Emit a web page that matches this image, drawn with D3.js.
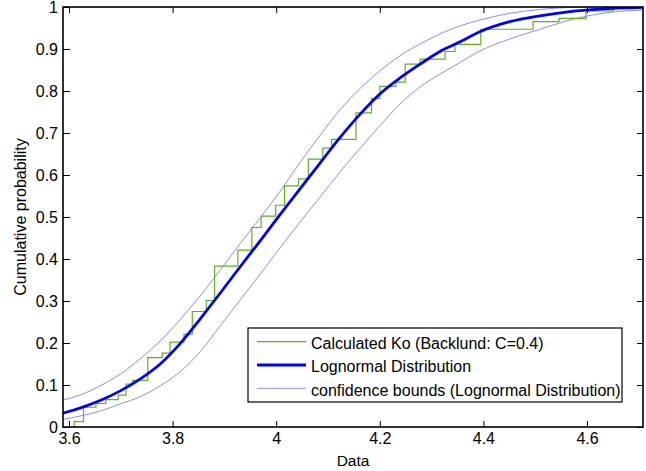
<!DOCTYPE html>
<html>
<head>
<meta charset="utf-8">
<script src="https://cdn.jsdelivr.net/npm/d3@7"></script>
<style>
  body { margin: 0; background: #fff; }
  svg { display: block; font-family: "Liberation Sans", Arial, sans-serif; }
</style>
</head>
<body>
<svg></svg>
<script>
// Empirical CDF (stairs) vs fitted lognormal CDF with confidence bounds

// empirical steps: x where the step happens, y = cumulative probability after the step
const ecdfX = [3.610, 3.628, 3.652, 3.671, 3.695, 3.710, 3.723, 3.752, 3.780, 3.795,
  3.822, 3.838, 3.865, 3.881, 3.926, 3.953, 3.971, 3.999, 4.016, 4.043,
  4.062, 4.090, 4.107, 4.154, 4.184, 4.200, 4.231, 4.249, 4.278, 4.326,
  4.345, 4.395, 4.496, 4.546, 4.598, 4.651];
const ecdfY = [0.013, 0.047, 0.056, 0.065, 0.076, 0.102, 0.111, 0.165, 0.176, 0.202,
  0.221, 0.275, 0.301, 0.383, 0.421, 0.475, 0.502, 0.528, 0.574, 0.591,
  0.638, 0.664, 0.685, 0.748, 0.782, 0.811, 0.821, 0.864, 0.876, 0.894,
  0.911, 0.947, 0.965, 0.973, 0.991, 1.0];

// fitted curve and bounds
const fitX = [3.588, 3.621, 3.660, 3.699, 3.737, 3.776, 3.814, 3.853, 3.892, 3.930,
  3.969, 4.007, 4.046, 4.085, 4.123, 4.162, 4.200, 4.239, 4.278, 4.316,
  4.355, 4.393, 4.451, 4.509, 4.567, 4.625, 4.708];
const fitY = [0.033, 0.045, 0.063, 0.086, 0.114, 0.150, 0.198, 0.257, 0.319, 0.381,
  0.443, 0.505, 0.567, 0.629, 0.689, 0.745, 0.793, 0.831, 0.864, 0.894,
  0.917, 0.941, 0.965, 0.979, 0.989, 0.995, 0.999];
const upperY = [0.064, 0.076, 0.098, 0.126, 0.162, 0.205, 0.255, 0.312, 0.374, 0.436,
  0.498, 0.560, 0.630, 0.695, 0.755, 0.806, 0.848, 0.884, 0.912, 0.936,
  0.955, 0.969, 0.985, 0.994, 0.999, 1.0, 1.0];
const lowerY = [0.018, 0.026, 0.038, 0.055, 0.072, 0.098, 0.131, 0.179, 0.241, 0.302,
  0.364, 0.426, 0.488, 0.548, 0.607, 0.664, 0.717, 0.769, 0.810, 0.840,
  0.868, 0.895, 0.924, 0.947, 0.969, 0.984, 0.993];

const xTicks = [3.6, 3.8, 4.0, 4.2, 4.4, 4.6];
const yTicks = [0, 0.1, 0.2, 0.3, 0.4, 0.5, 0.6, 0.7, 0.8, 0.9, 1];

const legendLabels = [
  "Calculated Ko (Backlund: C=0.4)",
  "Lognormal Distribution",
  "confidence bounds (Lognormal Distribution)"
];

const width = 646;
const height = 471;
const plotLeft = 63, plotRight = 643, plotTop = 7, plotBottom = 427;

const green = "#62b022";
const blue = "#0000ff";
const lightBlue = "#8c8cff";

const svg = d3.select("svg").attr("width", width).attr("height", height);

svg.append("rect").attr("width", width).attr("height", height).attr("fill", "#fff");

const x = d3.scaleLinear().domain([3.5884, 4.7081]).range([plotLeft, plotRight]);
const y = d3.scaleLinear().domain([0, 1]).range([plotBottom, plotTop]);

svg.append("clipPath").attr("id", "plot")
  .append("rect")
  .attr("x", plotLeft).attr("y", plotTop)
  .attr("width", plotRight - plotLeft).attr("height", plotBottom - plotTop);

const plot = svg.append("g").attr("clip-path", "url(#plot)");

const smooth = d3.line()
  .x((d) => x(d[0]))
  .y((d) => y(d[1]))
  .curve(d3.curveMonotoneX);

const upper = fitX.map((v, i) => [v, upperY[i]]);
const lower = fitX.map((v, i) => [v, lowerY[i]]);
const fit = fitX.map((v, i) => [v, fitY[i]]);
const steps = [[ecdfX[0], 0]].concat(ecdfX.map((v, i) => [v, ecdfY[i]]));

plot.append("path").datum(upper)
  .attr("d", smooth).attr("fill", "none")
  .attr("stroke", lightBlue).attr("stroke-width", 1);
plot.append("path").datum(lower)
  .attr("d", smooth).attr("fill", "none")
  .attr("stroke", lightBlue).attr("stroke-width", 1);

plot.append("path").datum(steps)
  .attr("d", d3.line().x((d) => x(d[0])).y((d) => y(d[1])).curve(d3.curveStepAfter))
  .attr("fill", "none")
  .attr("stroke", green).attr("stroke-width", 1.2);

plot.append("path").datum(fit)
  .attr("d", smooth).attr("fill", "none")
  .attr("stroke", blue).attr("stroke-width", 2.8);

// axes, MATLAB style: ticks inside, on all four sides
const fmt = (d) => String(+d.toFixed(1));

svg.append("g")
  .attr("transform", "translate(0," + plotBottom + ")")
  .call(d3.axisBottom(x).tickValues(xTicks).tickFormat(fmt).tickSize(-6).tickSizeOuter(0).tickPadding(6));

svg.append("g")
  .attr("transform", "translate(0," + plotTop + ")")
  .call(d3.axisTop(x).tickValues(xTicks).tickFormat("").tickSize(-6).tickSizeOuter(0));

svg.append("g")
  .attr("transform", "translate(" + plotLeft + ",0)")
  .call(d3.axisLeft(y).tickValues(yTicks).tickFormat(fmt).tickSize(-7).tickSizeOuter(0).tickPadding(5));

svg.append("g")
  .attr("transform", "translate(" + plotRight + ",0)")
  .call(d3.axisRight(y).tickValues(yTicks).tickFormat("").tickSize(-6).tickSizeOuter(0));

svg.selectAll(".domain").remove();
svg.selectAll(".tick line").attr("stroke", "#000").attr("stroke-width", 1);
svg.selectAll(".tick text")
  .attr("fill", "#000")
  .style("font-size", "16px")
  .style("font-family", "'Liberation Sans', Arial, sans-serif");

svg.append("rect")
  .attr("x", plotLeft).attr("y", plotTop)
  .attr("width", plotRight - plotLeft).attr("height", plotBottom - plotTop)
  .attr("fill", "none").attr("stroke", "#000").attr("stroke-width", 1.6);

svg.append("text")
  .attr("x", (plotLeft + plotRight) / 2)
  .attr("y", 466)
  .attr("text-anchor", "middle")
  .style("font-size", "15.5px")
  .text("Data");

svg.append("text")
  .attr("transform", "rotate(-90)")
  .attr("x", -(plotTop + plotBottom) / 2)
  .attr("y", 26)
  .attr("text-anchor", "middle")
  .style("font-size", "16px")
  .text("Cumulative probability");

// legend
const legend = svg.append("g");
legend.append("rect")
  .attr("x", 248).attr("y", 328)
  .attr("width", 374).attr("height", 74)
  .attr("fill", "#fff").attr("stroke", "#000").attr("stroke-width", 1.2);

const legendStyles = [
  { color: green, w: 1.2 },
  { color: blue, w: 2.8 },
  { color: lightBlue, w: 1 }
];

legendLabels.forEach((label, i) => {
  const ly = 341.7 + i * 23.3;
  legend.append("line")
    .attr("x1", 257).attr("x2", 306)
    .attr("y1", ly).attr("y2", ly)
    .attr("stroke", legendStyles[i].color)
    .attr("stroke-width", legendStyles[i].w);
  legend.append("text")
    .attr("x", 311).attr("y", ly + 7.3)
    .style("font-size", "16px")
    .text(label);
});
</script>
</body>
</html>
